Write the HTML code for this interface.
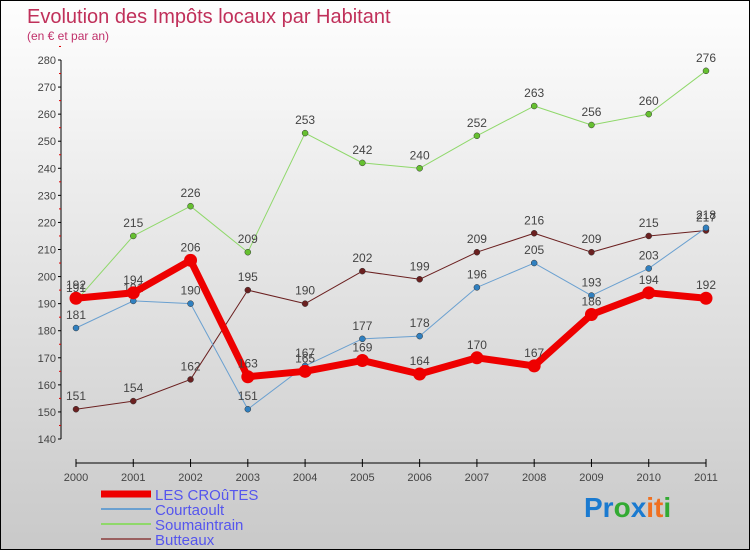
<!DOCTYPE html>
<html><head><meta charset="utf-8"><style>
body{margin:0}
#c{width:748px;height:548px;border:1px solid #000;background:linear-gradient(#fefefe,#c9c9c9);position:relative;font-family:"Liberation Sans",sans-serif}
</style></head><body>
<div id="c">
<svg id="s" width="748" height="548" style="position:absolute;left:0;top:0">
<text x="26" y="22" font-size="20" fill="#c0305a">Evolution des Impôts locaux par Habitant</text>
<text x="26" y="39" font-size="12" fill="#c0306a">(en € et par an)</text>
<g id="axes"></g><g id="series"></g><g id="legend"></g>
<text x="583" y="516" font-size="28" font-weight="bold"><tspan fill="#1a7ad0">Pr</tspan><tspan fill="#3a3">o</tspan><tspan fill="#1a7ad0">x</tspan><tspan fill="#f07020">it</tspan><tspan fill="#3a3">i</tspan></text>
</svg></div>
<script>
const years=[2000,2001,2002,2003,2004,2005,2006,2007,2008,2009,2010,2011];
const yTicks=[140,150,160,170,180,190,200,210,220,230,240,250,260,270,280];
const croutes=[192,194,206,163,165,169,164,170,167,186,194,192];
const courtaoult=[181,191,190,151,167,177,178,196,205,193,203,218];
const soumaintrain=[191,215,226,209,253,242,240,252,263,256,260,276];
const butteaux=[151,154,162,195,190,202,199,209,216,209,215,217];
const NS="http://www.w3.org/2000/svg";
function X(i){return 75+i*(630/11);}
function Y(v){return 438-(v-140)*(379/140);}
function mk(t,a,p){const e=document.createElementNS(NS,t);for(const k in a)e.setAttribute(k,a[k]);p.appendChild(e);return e;}
const ax=document.getElementById('axes');
let l=mk('line',{x1:60,y1:Y(280),x2:60,y2:Y(140),stroke:'#000'},ax);


yTicks.forEach(v=>{
 mk('line',{x1:57,y1:Y(v),x2:60,y2:Y(v),stroke:'#000'},ax);
 mk('line',{x1:58,y1:Y(v+5),x2:60,y2:Y(v+5),stroke:'#d00'},ax);
 const t=mk('text',{x:55,y:Y(v)+4,'font-size':11,fill:'#444','text-anchor':'end'},ax);t.textContent=v;
 
 
});
l=mk('line',{x1:X(0),y1:462,x2:X(11),y2:462,stroke:'#000'},ax);


years.forEach((y,i)=>{
 mk('line',{x1:X(i),y1:458,x2:X(i),y2:466,stroke:'#000'},ax);
 const t=mk('text',{x:X(i),y:480,'font-size':11,fill:'#444','text-anchor':'middle'},ax);t.textContent=y;
 
 
});
const sg=document.getElementById('series');
const series=[
 {n:'butteaux',d:butteaux,c:'#6b2020',w:1,r:3,f:'#6b2020'},
 {n:'soumaintrain',d:soumaintrain,c:'#8fd86a',w:1,r:3,f:'#66c030'},
 {n:'courtaoult',d:courtaoult,c:'#6aa0d0',w:1,r:3,f:'#3080c0'},
 {n:'croutes',d:croutes,c:'#ee0000',w:7,r:6.5,f:'#ee0000'}];
series.forEach(s=>{
 const g=mk('g',{},sg);
 
 
 mk('polyline',{points:s.d.map((v,i)=>X(i)+','+Y(v)).join(' '),fill:'none',stroke:s.c,'stroke-width':s.w,'stroke-linejoin':'round'},g);
 s.d.forEach((v,i)=>{
  const p=mk('circle',{cx:X(i),cy:Y(v),r:s.r,fill:s.f,stroke:s.w>1?'none':'#333','stroke-width':0.5},g);
  
  
  const t=mk('text',{x:X(i),y:Y(v)-9,'font-size':12,fill:'#444','text-anchor':'middle'},g);t.textContent=v;
  
  
 });
});
const lg=document.getElementById('legend');
[['LES CROûTES','#ee0000',7],['Courtaoult','#6aa0d0',2],['Soumaintrain','#8fd86a',2],['Butteaux','#9a6060',2]].forEach((e,i)=>{
 const g=mk('g',{},lg);
 
 
 const y=493+i*15;
 mk('line',{x1:100,y1:y,x2:150,y2:y,stroke:e[1],'stroke-width':e[2]},g);
 const t=mk('text',{x:154,y:y+6,'font-size':15,fill:'#5555ee'},g);t.textContent=e[0];
});
</script>
</body></html>
